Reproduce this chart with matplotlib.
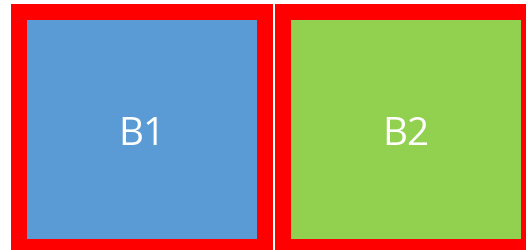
import matplotlib.pyplot as plt
from matplotlib.patches import Rectangle

labels = ["B1", "B2"]
fills = ["#5B9BD5", "#92D050"]

# layout in pixels (image coords, y down)
outer_x = [10.5, 274.7]
outer_w = [262.8, 251.6]
inner_x = [27, 290.7]
inner_w = [230, 230.3]
outer_top, outer_h = 5, 250
inner_top, inner_h = 21, 219
text_base = 145

fig = plt.figure(figsize=(5.28, 2.51), dpi=100)
ax = fig.add_axes([0, 0, 1, 1])
ax.set_xlim(0, 528)
ax.set_ylim(251, 0)
ax.axis("off")

for i, lab in enumerate(labels):
    ax.add_patch(Rectangle((outer_x[i], outer_top), outer_w[i], outer_h,
                           facecolor="#FF0000", edgecolor="none"))
    ax.add_patch(Rectangle((inner_x[i], inner_top), inner_w[i], inner_h,
                           facecolor=fills[i], edgecolor="none"))
    ax.text(inner_x[i] + inner_w[i] / 2, text_base, lab, color="white",
            fontsize=28, family="Open Sans", ha="center", va="baseline")

fig.savefig("out.png", dpi=100)
